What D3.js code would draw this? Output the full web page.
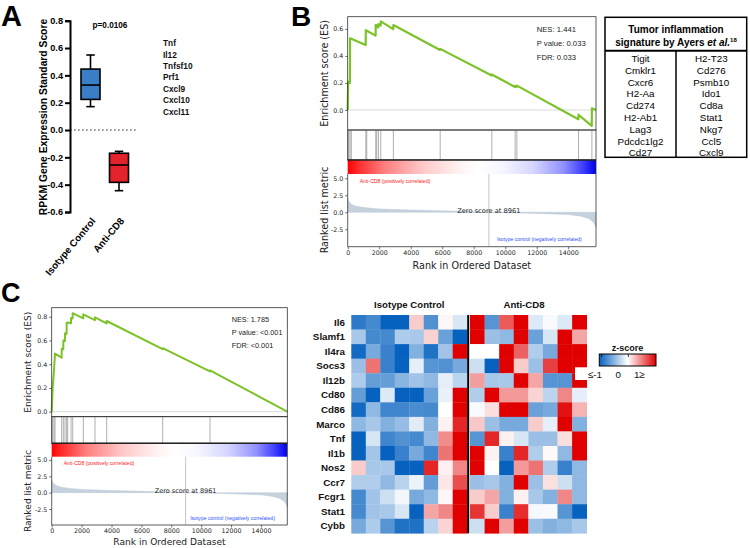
<!DOCTYPE html>
<html>
<head>
<meta charset="utf-8">
<script src="https://cdn.jsdelivr.net/npm/d3@7"></script>
<style>
  body { margin: 0; background: #fff; }
  svg { display: block; }
</style>
</head>
<body>
<svg id="fig" width="750" height="548"></svg>
<script>
'use strict';

// ---------- panel A : box plot ----------
var groupsA = ['Isotype Control', 'Anti-CD8'];
var boxMin = [0.171, -0.444];
var boxQ1  = [0.224, -0.383];
var boxMed = [0.329, -0.256];
var boxQ3  = [0.446, -0.170];
var boxMax = [0.549, -0.156];
var ticksA = [-0.6, -0.4, -0.2, 0.0, 0.2, 0.4, 0.6, 0.8];
var genesA = ['Tnf', 'Il12', 'Tnfsf10', 'Prf1', 'Cxcl9', 'Cxcl10', 'Cxcl11'];

// ---------- ranked list shared by the two GSEA plots ----------
var rankMax = 15760;
var zeroRank = 8961;
var rankTicks = [0, 2000, 4000, 6000, 8000, 10000, 12000, 14000];
var metricTicks = [-2.5, 0, 2.5, 5];
var metricRank = [0, 50, 150, 300, 500, 800, 1200, 2000, 3000, 4000, 6000, 7500, 8961, 10000, 11500, 13000, 14000, 14800, 15300, 15600, 15760];
var metricVal  = [2.0, 1.7, 1.35, 1.1, 0.92, 0.78, 0.65, 0.5, 0.4, 0.33, 0.22, 0.11, 0, -0.07, -0.14, -0.24, -0.34, -0.58, -0.92, -1.45, -2.2];

// ---------- panel B : GSEA, tumor inflammation signature ----------
var esRankB = [0, 30, 140, 150, 1140, 1150, 1770, 1780, 1940, 1950, 2090, 2100, 2890, 2900, 5860, 5870, 9140, 9150, 10620, 10630, 10730, 10740, 14640, 14650, 15490, 15500, 15760];
var esValB  = [0, 0.21, 0.20, 0.53, 0.48, 0.59, 0.55, 0.63, 0.61, 0.635, 0.625, 0.655, 0.598, 0.628, 0.444, 0.452, 0.255, 0.263, 0.17, 0.178, 0.172, 0.18, -0.068, -0.035, -0.118, 0.012, 0.0];
var hitsB = [30, 70, 150, 230, 1150, 1210, 1780, 1840, 1950, 2100, 2900, 5870, 9150, 10630, 10740, 14650, 15500];
var esTicksB = [0, 0.2, 0.4, 0.6];
var statsB = ['NES: 1.441', 'P value: 0.033', 'FDR: 0.033'];

// table next to B
var tisLeft  = ['Tigit', 'Cmklr1', 'Cxcr6', 'H2-Aa', 'Cd274', 'H2-Ab1', 'Lag3', 'Pdcdc1lg2', 'Cd27'];
var tisRight = ['H2-T23', 'Cd276', 'Psmb10', 'Ido1', 'Cd8a', 'Stat1', 'Nkg7', 'Ccl5', 'Cxcl9'];

// ---------- panel C : GSEA ----------
var esRankC = [0, 65, 154, 221, 667, 670, 775, 780, 885, 890, 995, 1000, 1065, 1070, 1290, 1295, 1400, 1405, 2110, 2116, 2890, 2896, 3670, 3677, 7420, 7425, 10585, 10590, 15760];
var esValC  = [0, 0.2, 0.35, 0.49, 0.455, 0.53, 0.525, 0.60, 0.595, 0.66, 0.655, 0.75, 0.746, 0.752, 0.745, 0.79, 0.785, 0.83, 0.786, 0.82, 0.772, 0.795, 0.744, 0.764, 0.527, 0.535, 0.34, 0.348, 0.0];
var hitsC = [10, 65, 154, 221, 667, 779, 890, 1000, 1070, 1295, 1405, 2116, 2896, 3677, 7425, 10590];
var esTicksC = [0, 0.2, 0.4, 0.6, 0.8];
var statsC = ['NES: 1.785', 'P value: <0.001', 'FDR: <0.001'];

// ---------- heatmap (z-scores, clipped at +-1) ----------
var hmGenes = ['Il6', 'Slamf1', 'Il4ra', 'Socs3', 'Il12b', 'Cd80', 'Cd86', 'Marco', 'Tnf', 'Il1b', 'Nos2', 'Ccr7', 'Fcgr1', 'Stat1', 'Cybb'];
var hmGroups = ['Isotype Control', 'Anti-CD8'];
var zIso = [
  [-0.85, -0.75, -1, -1, 0.2, -0.7, 0.03, -0.15],
  [-0.35, -0.75, -0.75, -0.33, -0.35, 0.18, -0.6, -1],
  [-0.95, -0.55, -0.8, -1, -0.5, -0.9, -0.38, 1],
  [-0.4, 0.55, -0.8, -1, -0.1, -0.68, -0.7, -0.55],
  [-0.33, -0.62, -0.62, -0.47, -0.38, -0.45, -0.1, -0.27],
  [-0.62, -1, -0.14, -1, -1, -0.6, -0.09, 1],
  [-0.95, -0.45, -0.77, -0.77, -0.73, -0.75, 0, 1],
  [-0.45, -0.35, -0.5, -0.42, -0.12, -0.5, 0.05, 0.85],
  [-1, -0.16, -0.77, -0.7, -0.75, -0.45, 0.45, 1],
  [-1, -0.37, -1, -0.8, -0.55, -0.77, 0.55, 1],
  [0.2, -0.35, -0.35, -1, -1, 0.85, 0.06, 0.47],
  [-0.32, -0.32, -0.45, -0.28, -0.08, -0.63, 0.1, 0.7],
  [-0.75, -0.38, -0.2, -0.05, -0.55, -0.45, 0.03, 1],
  [-0.75, -0.38, -0.35, -0.16, -1, 0.35, 0.47, 1],
  [-0.55, -0.33, -0.68, -0.9, -0.9, -0.28, 0.17, 1]
];
var zAnti = [
  [1, -0.68, 0.65, 1, -0.14, -0.03, -0.14, 1],
  [1, -0.4, -0.45, 1, -0.6, -0.16, 1, 0.35],
  [0, 0, 1, 0.62, -0.32, -0.55, 1, 1],
  [-0.2, -1, 1, 0.2, -0.4, 0.75, 1, 1],
  [0.38, -0.35, -0.35, 1, 0.35, -0.68, -0.68, 1],
  [-0.32, 1, 0.4, 0.4, 0.17, -0.27, 0.47, -0.1],
  [-0.03, 0.13, 1, 1, -0.6, -0.55, 0.93, 0.3],
  [0.22, -0.4, -0.55, -0.55, 0.2, -0.1, 1, -0.5],
  [-0.68, 0.85, 0.06, -0.16, -0.4, -0.4, 0.13, 1],
  [1, 0.05, -0.8, 0.85, -0.32, 0.02, -0.45, 1],
  [1, 0, -1, 0.4, 0.55, -0.32, -0.8, -0.45],
  [-0.4, -0.35, -0.5, 1, -0.4, 0.12, -0.2, -0.45],
  [0.2, 0.35, -0.5, 0.06, -0.35, -0.5, 0.47, -0.45],
  [0.8, 0.2, -0.8, 0.82, -0.04, -0.03, -0.68, -1],
  [-0.2, 1, 0.38, 1, -0.4, -0.5, -0.45, -0.35]
];
var zLegendTicks = ['≤-1', '0', '1≥'];

var SANS = "'Liberation Sans', Arial, sans-serif";
var MPL = "'DejaVu Sans', sans-serif";
var svg = d3.select('#fig');

function panelLetter(txt, x, y, size) {
  svg.append('text').attr('x', x).attr('y', y).text(txt)
    .attr('font-family', SANS).attr('font-weight', 'bold').attr('font-size', size).attr('fill', '#000');
}

// =============== panel A ===============
panelLetter('A', 1, 26, 29);
var gA = svg.append('g');
var yA = d3.scaleLinear().domain([-0.6, 0.8]).range([212, 20.7]);
var xA = d3.scalePoint().domain(groupsA).range([90.5, 119]);
var boxW = 19, capW = 8.5;
var fillA = ['#3b7ec8', '#e3232b'];

gA.append('line').attr('x1', 70).attr('x2', 137).attr('y1', yA(0)).attr('y2', yA(0))
  .attr('stroke', '#333').attr('stroke-width', 1).attr('stroke-dasharray', '1.6,2.4');

var axA = gA.append('g').attr('transform', 'translate(70,0)')
  .call(d3.axisLeft(yA).tickValues(ticksA).tickSize(5).tickPadding(2).tickFormat(function(d) { return d.toFixed(1); }));
axA.select('.domain').attr('stroke', '#000').attr('stroke-width', 2);
axA.selectAll('.tick line').attr('stroke', '#000').attr('stroke-width', 2);
axA.selectAll('.tick text').attr('font-family', SANS).attr('font-weight', 'bold').attr('font-size', 9.2).attr('fill', '#000');

groupsA.forEach(function(grp, i) {
  var cx = xA(grp);
  var g = gA.append('g');
  g.append('line').attr('x1', cx).attr('x2', cx).attr('y1', yA(boxMax[i])).attr('y2', yA(boxQ3[i]))
    .attr('stroke', '#000').attr('stroke-width', 1.6);
  g.append('line').attr('x1', cx).attr('x2', cx).attr('y1', yA(boxQ1[i])).attr('y2', yA(boxMin[i]))
    .attr('stroke', '#000').attr('stroke-width', 1.6);
  [boxMax[i], boxMin[i]].forEach(function(v) {
    g.append('line').attr('x1', cx - capW / 2).attr('x2', cx + capW / 2).attr('y1', yA(v)).attr('y2', yA(v))
      .attr('stroke', '#000').attr('stroke-width', 1.6);
  });
  g.append('rect').attr('x', cx - boxW / 2).attr('y', yA(boxQ3[i]))
    .attr('width', boxW).attr('height', yA(boxQ1[i]) - yA(boxQ3[i]))
    .attr('fill', fillA[i]).attr('stroke', '#000').attr('stroke-width', 1.6);
  g.append('line').attr('x1', cx - boxW / 2).attr('x2', cx + boxW / 2).attr('y1', yA(boxMed[i])).attr('y2', yA(boxMed[i]))
    .attr('stroke', '#000').attr('stroke-width', 1.6);
  g.append('text').attr('transform', 'translate(' + (cx + 3) + ',219) rotate(-50)')
    .attr('text-anchor', 'end').attr('dy', '0.35em').text(grp)
    .attr('font-family', SANS).attr('font-weight', 'bold').attr('font-size', 9.8).attr('fill', '#000');
});

gA.append('text').attr('transform', 'translate(43,117) rotate(-90)').attr('text-anchor', 'middle').attr('dy', '0.35em')
  .text('RPKM Gene Expression Standard Score')
  .attr('font-family', SANS).attr('font-weight', 'bold').attr('font-size', 10.3).attr('fill', '#000');
gA.append('text').attr('x', 110).attr('y', 25).attr('dy', '0.35em').attr('text-anchor', 'middle').text('p=0.0106')
  .attr('font-family', SANS).attr('font-weight', 'bold').attr('font-size', 8.2).attr('fill', '#000');
gA.selectAll('.gene').data(genesA).join('text')
  .attr('x', 163).attr('y', function(d, i) { return 43.3 + i * 11.4; }).attr('dy', '0.35em').text(function(d) { return d; })
  .attr('font-family', SANS).attr('font-weight', 'bold').attr('font-size', 8.3).attr('fill', '#111');

// =============== GSEA helper ===============
var defs = svg.append('defs');
var grad = defs.append('linearGradient').attr('id', 'rankbar').attr('x1', '0%').attr('x2', '100%');
[[0, '#ff0000'], [0.04, '#ff2a2a'], [0.15, '#ff8080'], [0.3, '#ffc8c8'], [0.45, '#fff2f2'], [0.52, '#ffffff'],
 [0.62, '#f6f6ff'], [0.75, '#d4d4ff'], [0.87, '#9090ff'], [0.95, '#3c3cff'], [1, '#0000e6']].forEach(function(s) {
  grad.append('stop').attr('offset', s[0]).attr('stop-color', s[1]);
});

function styleAxis(ax, fs) {
  ax.select('.domain').remove();
  ax.selectAll('.tick line').attr('stroke', '#333').attr('stroke-width', 0.7);
  ax.selectAll('.tick text').attr('font-family', MPL).attr('font-size', fs).attr('fill', '#222');
}

function drawGsea(L, esRank, esVal, hits, esTicks, stats) {
  var g = svg.append('g');
  var x = d3.scaleLinear().domain([0, rankMax]).range([L.left, L.right]);
  var yEs = d3.scaleLinear().domain(L.esDom).range([L.esBot, L.top]);
  var yMet = d3.scaleLinear().domain(L.metDom).range([L.rankBot, L.barBot]);
  var W = L.right - L.left;

  // enrichment score
  g.append('line').attr('x1', L.left).attr('x2', L.right).attr('y1', yEs(0)).attr('y2', yEs(0))
    .attr('stroke', '#cfcfcf').attr('stroke-width', 0.8);
  g.append('path').datum(d3.range(esRank.length))
    .attr('d', d3.line().x(function(i) { return x(esRank[i]); }).y(function(i) { return yEs(esVal[i]); }))
    .attr('fill', 'none').attr('stroke', '#7cc228').attr('stroke-width', L.lw).attr('stroke-linejoin', 'round');
  g.append('rect').attr('x', L.left).attr('y', L.top).attr('width', W).attr('height', L.esBot - L.top)
    .attr('fill', 'none').attr('stroke', '#333').attr('stroke-width', 0.8);
  var axEs = g.append('g').attr('transform', 'translate(' + L.left + ',0)')
    .call(d3.axisLeft(yEs).tickValues(esTicks).tickSize(2.5).tickPadding(2).tickFormat(function(d) { return d.toFixed(1); }));
  styleAxis(axEs, L.tickFs);

  // hits
  g.selectAll('.hit').data(hits).join('line')
    .attr('x1', function(d) { return x(d); }).attr('x2', function(d) { return x(d); })
    .attr('y1', L.esBot).attr('y2', L.hitBot).attr('stroke', '#8c8c8c').attr('stroke-width', 0.7);
  g.append('rect').attr('x', L.left).attr('y', L.esBot).attr('width', W).attr('height', L.hitBot - L.esBot)
    .attr('fill', 'none').attr('stroke', '#333').attr('stroke-width', 0.8);

  // colour bar
  g.append('rect').attr('x', L.left).attr('y', L.hitBot).attr('width', W).attr('height', L.barBot - L.hitBot)
    .attr('fill', 'url(#rankbar)');
  g.append('line').attr('x1', L.left).attr('x2', L.right).attr('y1', L.hitBot).attr('y2', L.hitBot)
    .attr('stroke', '#222').attr('stroke-width', 1.6);

  // ranked list metric
  g.append('path').datum(d3.range(metricRank.length))
    .attr('d', d3.area().x(function(i) { return x(metricRank[i]); }).y0(yMet(0)).y1(function(i) { return yMet(metricVal[i]); }))
    .attr('fill', '#c5d2de').attr('stroke', '#b4c3d1').attr('stroke-width', 0.4);
  g.append('line').attr('x1', x(zeroRank)).attr('x2', x(zeroRank)).attr('y1', L.barBot).attr('y2', L.rankBot)
    .attr('stroke', '#b5b5b5').attr('stroke-width', 0.8);
  g.append('text').attr('x', x(zeroRank)).attr('y', yMet(0) - 2).attr('dy', '0.35em').attr('text-anchor', 'middle')
    .text('Zero score at ' + zeroRank).attr('font-family', MPL).attr('font-size', L.zeroFs).attr('fill', '#222');
  g.append('text').attr('x', L.left + 12).attr('y', L.barBot + 7).attr('dy', '0.35em')
    .text('Anti-CD8 (positively correlated)').attr('font-family', SANS).attr('font-size', 5.1).attr('fill', '#ff1a1a');
  g.append('text').attr('x', x(zeroRank) + L.isoDx).attr('y', L.rankBot - 7).attr('dy', '0.35em')
    .text('Isotype control (negatively correlated)').attr('font-family', SANS).attr('font-size', 5.1).attr('fill', '#3050ff');
  g.append('line').attr('x1', L.left).attr('x2', L.left).attr('y1', L.barBot).attr('y2', L.rankBot).attr('stroke', '#333').attr('stroke-width', 0.8);
  g.append('line').attr('x1', L.right).attr('x2', L.right).attr('y1', L.hitBot).attr('y2', L.rankBot).attr('stroke', '#333').attr('stroke-width', 0.8);
  g.append('line').attr('x1', L.left).attr('x2', L.right).attr('y1', L.rankBot).attr('y2', L.rankBot).attr('stroke', '#333').attr('stroke-width', 0.8);
  var axMet = g.append('g').attr('transform', 'translate(' + L.left + ',0)')
    .call(d3.axisLeft(yMet).tickValues(metricTicks).tickSize(2.5).tickPadding(2).tickFormat(function(d) { return d.toFixed(1); }));
  styleAxis(axMet, L.tickFs);
  var axX = g.append('g').attr('transform', 'translate(0,' + L.rankBot + ')')
    .call(d3.axisBottom(x).tickValues(rankTicks).tickSize(2.5).tickPadding(1.5).tickFormat(d3.format('d')));
  styleAxis(axX, L.tickFs);

  // titles
  g.append('text').attr('transform', 'translate(' + L.labelX + ',' + ((L.top + L.esBot) / 2) + ') rotate(-90)')
    .attr('text-anchor', 'middle').attr('dy', '0.35em').text('Enrichment score (ES)')
    .attr('font-family', MPL).attr('font-size', L.labFs).attr('fill', '#222');
  g.append('text').attr('transform', 'translate(' + L.labelX + ',' + L.metLabY + ') rotate(-90)')
    .attr('text-anchor', 'middle').attr('dy', '0.35em').text('Ranked list metric')
    .attr('font-family', MPL).attr('font-size', L.labFs).attr('fill', '#222');
  g.append('text').attr('x', (L.left + L.right) / 2).attr('y', L.xLabY).attr('dy', '0.35em').attr('text-anchor', 'middle')
    .text('Rank in Ordered Dataset').attr('font-family', MPL).attr('font-size', L.labFs).attr('fill', '#222');

  g.selectAll('.stat').data(stats).join('text')
    .attr('x', L.statX).attr('y', function(d, i) { return L.statY + i * L.statDy; }).attr('dy', '0.35em')
    .text(function(d) { return d; }).attr('font-family', SANS).attr('font-size', L.statFs).attr('fill', '#222');
}

// =============== panel B ===============
panelLetter('B', 291, 25.5, 28);
drawGsea({
  left: 347.7, right: 596, top: 16.7, esBot: 130, hitBot: 160, barBot: 174, rankBot: 246.7,
  esDom: [-0.148, 0.69], metDom: [-5.06, 5.63], lw: 2.2, tickFs: 6.3, labFs: 9.6, zeroFs: 6.7,
  labelX: 325, metLabY: 210, xLabY: 265.5, isoDx: 8,
  statX: 536.7, statY: 29, statDy: 14, statFs: 7.7
}, esRankB, esValB, hitsB, esTicksB, statsB);

// table
var gT = svg.append('g');
gT.append('rect').attr('x', 605).attr('y', 17.3).attr('width', 141.7).attr('height', 140)
  .attr('fill', 'none').attr('stroke', '#000').attr('stroke-width', 1.5);
gT.append('line').attr('x1', 605).attr('x2', 746.7).attr('y1', 50.7).attr('y2', 50.7).attr('stroke', '#000').attr('stroke-width', 2);
gT.append('line').attr('x1', 676).attr('x2', 676).attr('y1', 50.7).attr('y2', 157.3).attr('stroke', '#000').attr('stroke-width', 1.5);
gT.append('text').attr('x', 676).attr('y', 29).attr('dy', '0.35em').attr('text-anchor', 'middle')
  .text('Tumor inflammation').attr('font-family', SANS).attr('font-weight', 'bold').attr('font-size', 10).attr('fill', '#000');
var hdr = gT.append('text').attr('x', 676).attr('y', 42).attr('dy', '0.35em').attr('text-anchor', 'middle')
  .attr('font-family', SANS).attr('font-weight', 'bold').attr('font-size', 10).attr('fill', '#000');
hdr.append('tspan').text('signature by Ayers ');
hdr.append('tspan').attr('font-style', 'italic').text('et al.');
hdr.append('tspan').attr('font-size', 6).attr('dy', '-3.5').text('18');
[tisLeft, tisRight].forEach(function(col, c) {
  gT.selectAll('.col' + c).data(col).join('text')
    .attr('x', c === 0 ? 640.5 : 711.3).attr('y', function(d, i) { return 58.5 + i * 11.8; }).attr('dy', '0.35em')
    .attr('text-anchor', 'middle').text(function(d) { return d; })
    .attr('font-family', SANS).attr('font-size', 9.8).attr('fill', '#000');
});

// =============== panel C ===============
panelLetter('C', 1, 302, 27);
drawGsea({
  left: 51.7, right: 287.3, top: 307.7, esBot: 416.7, hitBot: 443.3, barBot: 456.7, rankBot: 525,
  esDom: [-0.042, 0.876], metDom: [-4.95, 5.5], lw: 2, tickFs: 6.3, labFs: 9.1, zeroFs: 6.5,
  labelX: 28.3, metLabY: 491, xLabY: 542, isoDx: 4.5,
  statX: 231.7, statY: 319.3, statDy: 13.2, statFs: 7.3
}, esRankC, esValC, hitsC, esTicksC, statsC);

// =============== heatmap ===============
var gH = svg.append('g');
var color = d3.scaleLinear().domain([-1, 0, 1]).range(['#0762bf', '#ffffff', '#e00000']).clamp(true);
var yH = d3.scaleBand().domain(hmGenes).range([315, 533.3]);
var xIso = d3.scaleBand().domain(d3.range(8)).range([351.3, 467.2]);
var xAnti = d3.scaleBand().domain(d3.range(8)).range([470, 586.7]);

[[zIso, xIso], [zAnti, xAnti]].forEach(function(pair) {
  var mat = pair[0], xs = pair[1];
  mat.forEach(function(row, r) {
    gH.selectAll(null).data(row).join('rect')
      .attr('x', function(d, c) { return xs(c); }).attr('y', yH(hmGenes[r]))
      .attr('width', xs.bandwidth() + 0.3).attr('height', yH.bandwidth() + 0.3)
      .attr('fill', function(d) { return color(d); });
  });
});
gH.append('rect').attr('x', 467.2).attr('y', 315).attr('width', 2).attr('height', 218.3).attr('fill', '#000');

gH.selectAll('.rowlab').data(hmGenes).join('text')
  .attr('x', 345).attr('y', function(d) { return yH(d) + yH.bandwidth() / 2; }).attr('dy', '0.35em')
  .attr('text-anchor', 'end').text(function(d) { return d; })
  .attr('font-family', SANS).attr('font-weight', 'bold').attr('font-size', 9.8).attr('fill', '#111');
gH.selectAll('.grplab').data(hmGroups).join('text')
  .attr('x', function(d, i) { return i === 0 ? 409.3 : 524; }).attr('y', 305).attr('dy', '0.35em')
  .attr('text-anchor', 'middle').text(function(d) { return d; })
  .attr('font-family', SANS).attr('font-weight', 'bold').attr('font-size', 9.6).attr('fill', '#111');

// colour key
var zg = defs.append('linearGradient').attr('id', 'zkey').attr('x1', '0%').attr('x2', '100%');
d3.range(0, 1.0001, 0.1).forEach(function(t) {
  zg.append('stop').attr('offset', t).attr('stop-color', color(-1 + 2 * t));
});
gH.append('text').attr('x', 627.5).attr('y', 348.3).attr('dy', '0.35em').attr('text-anchor', 'middle')
  .text('z-score').attr('font-family', SANS).attr('font-weight', 'bold').attr('font-size', 9).attr('fill', '#111');
gH.append('rect').attr('x', 599.3).attr('y', 354).attr('width', 56.7).attr('height', 12)
  .attr('fill', 'url(#zkey)').attr('stroke', '#000').attr('stroke-width', 1);
[601.7, 628.3].forEach(function(tx) {
  gH.append('line').attr('x1', tx).attr('x2', tx).attr('y1', 354).attr('y2', 357).attr('stroke', '#000').attr('stroke-width', 0.8);
});
gH.append('rect').attr('x', 575).attr('y', 367.3).attr('width', 82).attr('height', 12.7).attr('fill', '#fff');
var keyX = [595, 618.3, 639.3];
zLegendTicks.forEach(function(t, i) {
  gH.append('text').attr('x', keyX[i]).attr('y', 374.3).attr('dy', '0.35em').attr('text-anchor', 'middle')
    .text(t).attr('font-family', SANS).attr('font-size', 9.8).attr('fill', '#111');
});
</script>
</body>
</html>
